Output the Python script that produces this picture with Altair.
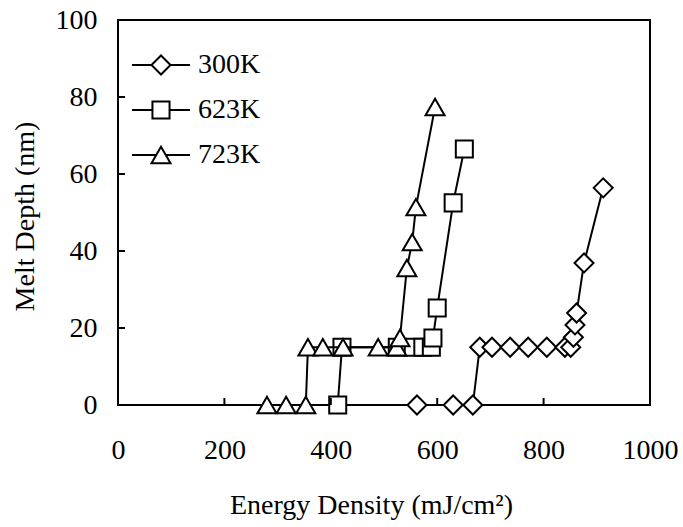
import altair as alt
import pandas as pd

# Melt depth versus laser energy density for three substrate temperatures
energy_300 = [562, 630, 667, 680, 703, 737, 771, 806, 840, 851, 856, 859, 862, 876, 912]
depth_300 = [0, 0, 0, 15, 15, 15, 15, 15, 15, 15, 17.6, 20.8, 23.9, 36.9, 56.4]

energy_623 = [413, 421, 525, 555, 573, 589, 592, 600, 630, 651]
depth_623 = [0, 15, 15, 15, 15, 15, 17.4, 25.2, 52.5, 66.5]

energy_723 = [280, 316, 353, 357, 385, 423, 489, 524, 530, 543, 553, 560, 596]
depth_723 = [0, 0, 0, 15, 15, 15, 15, 15, 17.4, 35.6, 42.3, 51.4, 77.4]

series_names = ["300K", "623K", "723K"]
x_tick_values = [0, 200, 400, 600, 800, 1000]
y_tick_values = [0, 20, 40, 60, 80, 100]

FONT = "Liberation Serif"

frames = []
for name, xs, ys in [("300K", energy_300, depth_300),
                     ("623K", energy_623, depth_623),
                     ("723K", energy_723, depth_723)]:
    frames.append(pd.DataFrame({"energy": xs, "depth": ys, "series": name,
                                "idx": range(len(xs))}))
df = pd.concat(frames, ignore_index=True)

x_scale = alt.Scale(domain=[0, 1000], nice=False, zero=False)
y_scale = alt.Scale(domain=[0, 100], nice=False, zero=False)

x_axis = alt.Axis(values=x_tick_values, format="d", title="Energy Density (mJ/cm²)",
                  labelPadding=31, titleBaseline="alphabetic", titleY=108, titleX=253)
y_axis = alt.Axis(values=y_tick_values, format="d", title="Melt Depth (nm)",
                  labelPadding=21, titleBaseline="alphabetic", titleX=-85, titleY=196)
x_enc = alt.X("energy:Q", scale=x_scale, axis=x_axis)
y_enc = alt.Y("depth:Q", scale=y_scale, axis=y_axis)

marker_style = {
    "300K": dict(shape="diamond", size=361),
    "623K": dict(shape="square", size=290),
    "723K": dict(shape="triangle-up", size=361),
}

layers = []
for name in series_names:
    base = alt.Chart(df).transform_filter(alt.datum.series == name)
    line = base.mark_line(color="black", strokeWidth=2).encode(
        x=x_enc, y=y_enc, order="idx:Q")
    pts = base.mark_point(filled=True, fill="white", stroke="black", strokeWidth=2,
                          opacity=1, **marker_style[name]).encode(x=x_enc, y=y_enc)
    layers += [line, pts]

# Legend symbols: a short line with the series marker on it
legend_paths = [
    "M-3.05,0L-1,0M-1,0L0,-1L1,0L0,1ZM1,0L3.05,0",
    "M-3.05,0L-0.9,0M-0.9,-0.9L0.9,-0.9L0.9,0.9L-0.9,0.9ZM0.9,0L3.05,0",
    "M-3.05,0L-0.5,0M0,-0.866L1,0.866L-1,0.866ZM0.5,0L3.05,0",
]
legend_layer = alt.Chart(df).transform_filter("false").mark_point(
    filled=False, color="black", strokeWidth=2, size=361, opacity=1
).encode(
    x=x_enc,
    y=y_enc,
    shape=alt.Shape("series:N",
                    scale=alt.Scale(domain=series_names, range=legend_paths),
                    legend=alt.Legend(title=None, orient="none", legendX=14, legendY=31,
                                      symbolSize=361, symbolOffset=15, labelOffset=23,
                                      symbolStrokeColor="black", symbolStrokeWidth=2,
                                      symbolOpacity=1,
                                      labelFont=FONT, labelFontSize=28,
                                      labelColor="black", rowPadding=17, padding=0)),
)

# Inward tick marks on the bottom and left edges
xt = pd.DataFrame({"energy": [200, 400, 600, 800]})
yt = pd.DataFrame({"depth": [20, 40, 60, 80]})
x_ticks = alt.Chart(xt).mark_rule(color="black", strokeWidth=2).encode(
    x=x_enc, y=alt.value(385), y2=alt.value(378))
y_ticks = alt.Chart(yt).mark_rule(color="black", strokeWidth=2).encode(
    y=y_enc, x=alt.value(0), x2=alt.value(7))

chart = alt.layer(*layers, legend_layer, x_ticks, y_ticks).properties(
    width=532, height=385,
    autosize=alt.AutoSizeParams(type="none"),
    padding={"left": 118, "top": 20, "right": 33, "bottom": 122},
    background="white",
).configure_view(
    stroke="black", strokeWidth=2
).configure_axis(
    ticks=False, domain=False, grid=False,
    labelFont=FONT, labelFontSize=28, labelColor="black", labelFlush=False,
    labelOverlap=False,
    titleFont=FONT, titleFontSize=28, titleFontWeight="normal", titleColor="black",
)

chart.save("out.html", embed_options={"renderer": "svg", "actions": False})
